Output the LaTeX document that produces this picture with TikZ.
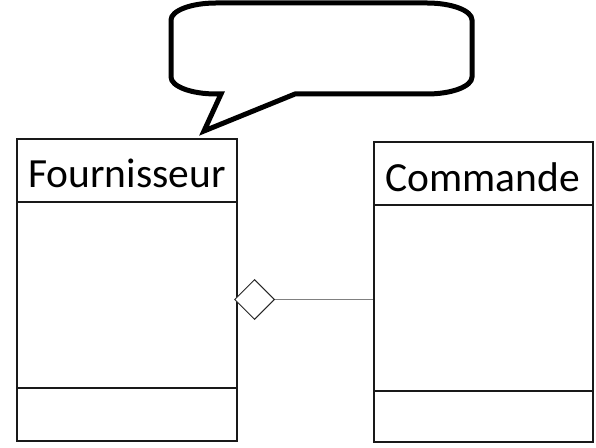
\documentclass[tikz,border=0pt]{standalone}
\usepackage{fontspec}
\setmainfont{Carlito}
\usetikzlibrary{shapes.geometric}
\begin{document}
\begin{tikzpicture}[x=1pt,y=1pt,
  classbox/.style={draw=black!90,line width=2pt,rectangle,inner sep=0pt,anchor=south west},
  divider/.style={draw=black!90,line width=2pt},
  title/.style={font=\fontsize{41.5}{45}\selectfont,anchor=base,inner sep=0pt},
  agg/.style={diamond,draw=black!85,line width=1pt,fill=white,minimum width=40pt,minimum height=40pt,inner sep=0pt},
  link/.style={draw=black!50,line width=1.3pt},
  callout/.style={draw=black,line width=5pt,line join=miter,miter limit=20,fill=white}]
\useasboundingbox (0,0) rectangle (596,447);
% classes
\node[classbox,minimum width=219.7pt,minimum height=301.7pt] (four) at (16,5.3) {};
\node[classbox,minimum width=219pt,minimum height=300.6pt] (comm) at (373.3,3.7) {};
\coordinate (fourH) at (0,245.3);
\coordinate (fourL) at (0,59);
\coordinate (commH) at (0,242);
\coordinate (commL) at (0,56);
\draw[divider] (four.west |- fourH) -- (four.east |- fourH);
\draw[divider] (four.west |- fourL) -- (four.east |- fourL);
\draw[divider] (comm.west |- commH) -- (comm.east |- commH);
\draw[divider] (comm.west |- commL) -- (comm.east |- commL);
\node[title] (fourT) at (127,259) {Fournisseur};
\node[title] (commT) at (482.5,255.3) {Commande};
% aggregation
\node[agg] (dia) at (254.5,147.5) {};
\draw[link] (dia.east) -- (dia.east -| comm.west);
% callout
\draw[callout] (221,353) -- (204,316) -- (295,353) -- (427,353)
  arc[start angle=270,end angle=360,x radius=45,y radius=17] -- (472,427)
  arc[start angle=0,end angle=90,x radius=45,y radius=17] -- (216,444)
  arc[start angle=90,end angle=180,x radius=45,y radius=17] -- (171,370)
  arc[start angle=180,end angle=270,x radius=45,y radius=17] -- cycle;
\end{tikzpicture}
\end{document}
